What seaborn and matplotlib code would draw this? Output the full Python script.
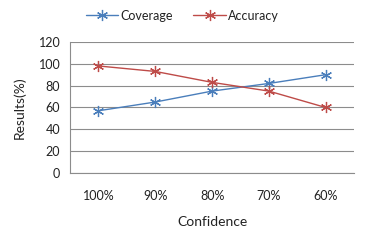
import pandas as pd
import seaborn as sns
import matplotlib
matplotlib.use('Agg')
import matplotlib.pyplot as plt
from matplotlib.ticker import FixedLocator, NullFormatter

confidence = ['100%', '90%', '80%', '70%', '60%']
coverage = [57, 65, 75, 82, 90]
accuracy = [98, 93, 83, 75, 60]

df = pd.DataFrame({
    'Confidence': confidence * 2,
    'Results': coverage + accuracy,
    'Series': ['Coverage'] * 5 + ['Accuracy'] * 5,
})

sns.set_style('white')
plt.rcParams['font.family'] = ['Lato', 'DejaVu Sans']

fig = plt.figure(figsize=(3.65, 2.41), dpi=100)
ax = fig.add_axes([0.192, 0.282, 0.778, 0.544])

asterisk = (6, 2, 0)
sns.lineplot(data=df, x='Confidence', y='Results', hue='Series', style='Series',
             markers={'Coverage': asterisk, 'Accuracy': asterisk}, dashes=False,
             palette={'Coverage': '#4A7EBB', 'Accuracy': '#BE4B48'},
             markersize=8, linewidth=1.0, markeredgewidth=0.9, ax=ax, sort=False)

for line in ax.lines:
    line.set_markeredgecolor(line.get_color())
    line.set_markerfacecolor('none')

ax.set_xlim(-0.5, 4.5)
ax.set_ylim(0, 120)
ax.set_yticks(range(0, 121, 20))
ax.yaxis.grid(True, color='#8c8c8c', linewidth=0.8)
ax.set_axisbelow(True)

ax.xaxis.set_minor_locator(FixedLocator([-0.5, 0.5, 1.5, 2.5, 3.5, 4.5]))
ax.xaxis.set_minor_formatter(NullFormatter())
ax.tick_params(axis='x', which='major', length=0, pad=12, labelsize=9, labelcolor='#222222')
ax.tick_params(axis='x', which='minor', length=4, width=0.8, color='#8c8c8c', direction='out')
ax.tick_params(axis='y', which='major', length=3, width=0.8, color='#8c8c8c', direction='out',
               labelsize=9, pad=4, labelcolor='#222222')

for side in ['top', 'right']:
    ax.spines[side].set_visible(False)
for side in ['left', 'bottom']:
    ax.spines[side].set_color('#8c8c8c')
    ax.spines[side].set_linewidth(0.8)

ax.set_xlabel('Confidence', fontsize=10, labelpad=10, color='#222222')
ax.set_ylabel('Results(%)', fontsize=10, labelpad=9, color='#222222')

handles, labels = ax.get_legend_handles_labels()
ax.get_legend().remove()
fig.legend(handles, labels, loc='center', bbox_to_anchor=(0.5, 0.935), ncol=2, frameon=False,
           fontsize=9, handlelength=2.6, columnspacing=1.6, handletextpad=0.2,
           labelcolor='#222222')

fig.savefig('out.png', dpi=100)
